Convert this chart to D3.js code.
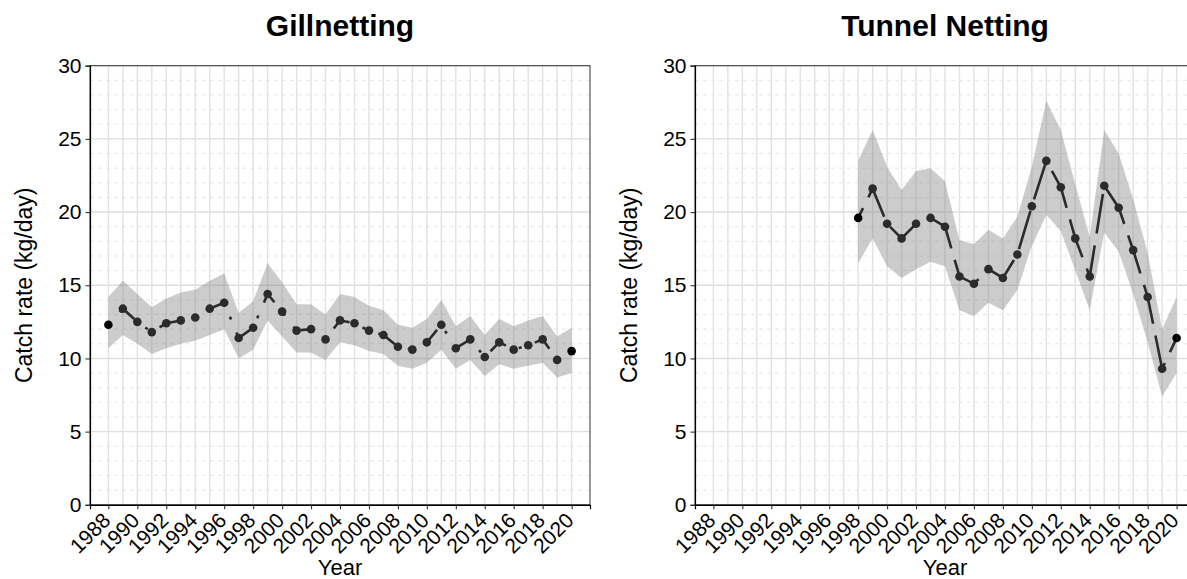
<!DOCTYPE html>
<html>
<head>
<meta charset="utf-8">
<script src="https://cdn.jsdelivr.net/npm/d3@7"></script>
<style>
  body { margin: 0; background: #fff; }
  text { font-family: "Liberation Sans", Arial, sans-serif; fill: #000; }
</style>
</head>
<body>
<div id="chart"></div>
<script>
// years shown on the x axis
var yearLabels = ["1988","1990","1992","1994","1996","1998","2000","2002","2004","2006","2008","2010","2012","2014","2016","2018","2020"];
var gridYears = [1988,1989,1990,1991,1992,1993,1994,1995,1996,1997,1998,1999,2000,2001,2002,2003,2004,2005,2006,2007,2008,2009,2010,2011,2012,2013,2014,2015,2016,2017,2018,2019,2020];
var yTicks = [0, 5, 10, 15, 20, 25, 30];

// Gillnetting
var gillYears = [1988,1989,1990,1991,1992,1993,1994,1995,1996,1997,1998,1999,2000,2001,2002,2003,2004,2005,2006,2007,2008,2009,2010,2011,2012,2013,2014,2015,2016,2017,2018,2019,2020];
var gillRate  = [12.3,13.4,12.5,11.8,12.4,12.6,12.8,13.4,13.8,11.4,12.1,14.4,13.2,11.9,12.0,11.3,12.6,12.4,11.9,11.6,10.8,10.6,11.1,12.3,10.7,11.3,10.1,11.1,10.6,10.9,11.3,9.9,10.5];
var gillLower = [10.7,11.6,11.0,10.3,10.7,11.0,11.2,11.6,12.0,10.0,10.6,12.6,11.5,10.4,10.4,9.9,11.1,10.9,10.5,10.3,9.5,9.3,9.7,10.6,9.3,9.9,8.8,9.6,9.3,9.5,9.7,8.7,9.0];
var gillUpper = [14.2,15.3,14.4,13.5,14.1,14.5,14.7,15.3,15.8,13.1,13.9,16.5,15.2,13.7,13.7,13.0,14.4,14.2,13.6,13.3,12.3,12.1,12.7,14.0,12.2,12.9,11.6,12.7,12.2,12.6,12.9,11.5,12.1];

// Tunnel Netting
var tunYears = [1998,1999,2000,2001,2002,2003,2004,2005,2006,2007,2008,2009,2010,2011,2012,2013,2014,2015,2016,2017,2018,2019,2020];
var tunRate  = [19.6,21.6,19.2,18.2,19.2,19.6,19.0,15.6,15.1,16.1,15.5,17.1,20.4,23.5,21.7,18.2,15.6,21.8,20.3,17.4,14.2,9.3,11.4];
var tunLower = [16.5,18.2,16.3,15.5,16.1,16.6,16.3,13.3,12.9,13.8,13.3,14.7,17.7,19.8,18.7,16.0,13.3,18.6,17.3,14.4,11.1,7.4,9.0];
var tunUpper = [23.5,25.6,23.1,21.5,22.8,23.0,22.1,18.1,17.8,18.8,18.2,19.7,23.1,27.6,25.6,21.9,18.3,25.6,24.0,20.9,17.2,12.0,14.2];

var W = 1187, H = 579;
var svg = d3.select("#chart").append("svg")
    .attr("width", W)
    .attr("height", H);

var panelTop = 65.7, panelBottom = 504.8, panelWidth = 500;

function drawPanel(left, title, years, rate, lower, upper, dash, dashOffset) {
    var x = d3.scaleLinear()
        .domain([1986.73, 2021.27])
        .range([left, left + panelWidth]);
    var y = d3.scaleLinear()
        .domain([0, 30])
        .range([panelBottom, panelTop]);

    var g = svg.append("g");

    // minor horizontal grid (every 1)
    var minor = d3.range(1, 30).filter(function(d) { return d % 5 !== 0; });
    g.selectAll(".minor").data(minor).enter().append("line")
        .attr("x1", left).attr("x2", left + panelWidth)
        .attr("y1", function(d) { return y(d); })
        .attr("y2", function(d) { return y(d); })
        .attr("stroke", "#dedede")
        .attr("stroke-width", 0.8)
        .attr("stroke-dasharray", "4,4");

    // major horizontal grid
    g.selectAll(".major").data(yTicks).enter().append("line")
        .attr("x1", left).attr("x2", left + panelWidth)
        .attr("y1", function(d) { return y(d); })
        .attr("y2", function(d) { return y(d); })
        .attr("stroke", "#dedede")
        .attr("stroke-width", 1.4);

    // vertical grid every year
    g.selectAll(".vgrid").data(gridYears).enter().append("line")
        .attr("x1", function(d) { return x(d); })
        .attr("x2", function(d) { return x(d); })
        .attr("y1", panelTop).attr("y2", panelBottom)
        .attr("stroke", "#e2e2e2")
        .attr("stroke-width", 1.4);

    var rows = years.map(function(yr, i) {
        return { year: yr, rate: rate[i], lo: lower[i], hi: upper[i] };
    });

    // confidence ribbon
    var area = d3.area()
        .x(function(d) { return x(d.year); })
        .y0(function(d) { return y(d.lo); })
        .y1(function(d) { return y(d.hi); });
    g.append("path")
        .datum(rows)
        .attr("d", area)
        .attr("fill", "#7f7f7f")
        .attr("fill-opacity", 0.4);

    // trend line
    var line = d3.line()
        .x(function(d) { return x(d.year); })
        .y(function(d) { return y(d.rate); });
    g.append("path")
        .datum(rows)
        .attr("d", line)
        .attr("fill", "none")
        .attr("stroke", "#2b2b2b")
        .attr("stroke-width", 2.6)
        .attr("stroke-dasharray", dash)
        .attr("stroke-dashoffset", dashOffset);

    g.selectAll(".pt").data(rows).enter().append("circle")
        .attr("cx", function(d) { return x(d.year); })
        .attr("cy", function(d) { return y(d.rate); })
        .attr("r", 4.3)
        .attr("fill", function(d, i) { return (i === 0 || i === rows.length - 1) ? "#000" : "#2b2b2b"; });

    // panel border
    g.append("rect")
        .attr("x", left).attr("y", panelTop)
        .attr("width", panelWidth).attr("height", panelBottom - panelTop)
        .attr("fill", "none")
        .attr("stroke", "#333")
        .attr("stroke-width", 1);

    // axes
    var yAxis = d3.axisLeft(y).tickValues(yTicks).tickSize(4.5).tickPadding(4);
    var ya = g.append("g")
        .attr("transform", "translate(" + left + ",0)")
        .call(yAxis);
    ya.select(".domain").attr("stroke", "#000").attr("stroke-width", 1.2);
    ya.selectAll(".tick line").attr("stroke", "#333").attr("stroke-width", 1.1);
    ya.selectAll(".tick text").style("font-size", "21px").attr("fill", "#000");

    var xAxis = d3.axisBottom(x)
        .tickValues(yearLabels.map(Number))
        .tickFormat(d3.format("d"))
        .tickSize(4.5);
    var xa = g.append("g")
        .attr("transform", "translate(0," + panelBottom + ")")
        .call(xAxis);
    xa.select(".domain").attr("stroke", "#000").attr("stroke-width", 1.2);
    xa.selectAll(".tick line").attr("stroke", "#333").attr("stroke-width", 1.1);
    xa.selectAll(".tick text")
        .style("font-size", "21px")
        .attr("fill", "#000")
        .attr("text-anchor", "end")
        .attr("x", 0).attr("y", 0).attr("dy", 0)
        .attr("transform", "translate(3,17) rotate(-45)");

    var cx = left + panelWidth / 2;
    svg.append("text")
        .attr("x", cx)
        .attr("y", 36)
        .attr("text-anchor", "middle")
        .style("font-size", "30px")
        .style("font-weight", "bold")
        .text(title);

    svg.append("text")
        .attr("x", cx)
        .attr("y", 575)
        .attr("text-anchor", "middle")
        .style("font-size", "22px")
        .text("Year");

    svg.append("text")
        .attr("transform", "translate(" + (left - 58.5) + "," + ((panelTop + panelBottom) / 2) + ") rotate(-90)")
        .attr("text-anchor", "middle")
        .style("font-size", "23px")
        .text("Catch rate (kg/day)");
}

drawPanel(90, "Gillnetting", gillYears, gillRate, gillLower, gillUpper, "3,14,20,14", 0);
drawPanel(695, "Tunnel Netting", tunYears, tunRate, tunLower, tunUpper, "40,12", 29);
</script>
</body>
</html>
